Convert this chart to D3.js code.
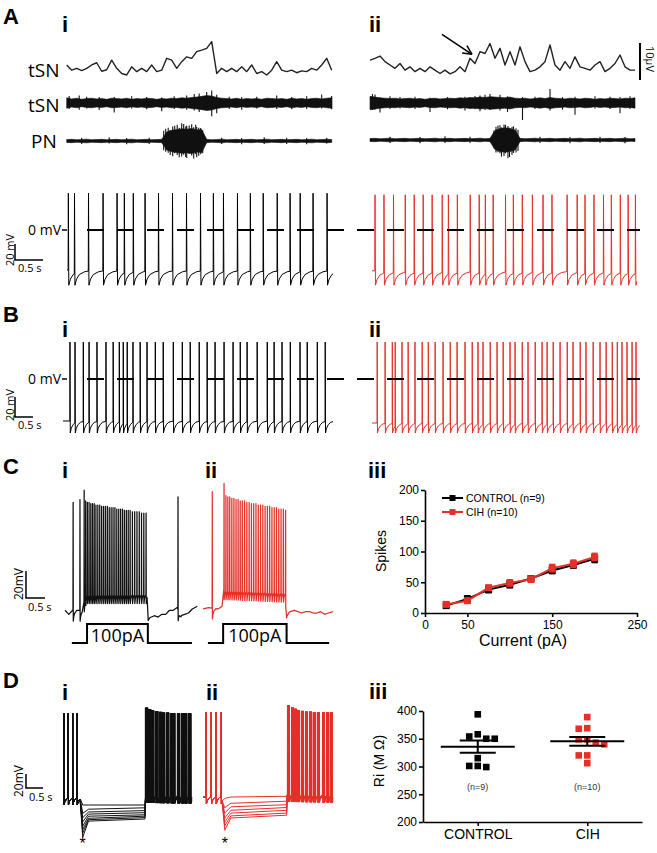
<!DOCTYPE html>
<html><head><meta charset="utf-8">
<script src="https://cdn.jsdelivr.net/npm/d3@7"></script>
<style>html,body{margin:0;padding:0;background:#fff;}svg{display:block;}</style>
</head><body>
<svg id="fig" width="657" height="853"></svg>
<script>
// ================= DATA =================
// Panel A top: integrated tSN (µV above baseline), one sample every 0.1 s
const tsnIntI = [1.9,0.5,1.0,0.4,1.0,1.9,2.5,0.2,0.6,3.2,1.0,-0.4,-0.8,1.4,0.1,1.0,0.1,1.9,0.1,0.5,3.7,3.2,1.0,2.8,4.1,3.7,5.5,5.9,6.4,8.2,-0.4,1.0,0.1,1.0,0.1,1.4,0.1,1.9,-0.4,0.1,-0.8,0.5,2.8,0.5,0.1,0.5,-0.2,0.3,0.1,1.0,0.5,1.9,3.7,0.5];
const tsnIntII = [3.2,3.7,4.3,2.8,1.9,1.0,2.3,0.5,1.4,0.1,1.0,0.1,1.4,0.5,-0.4,0.5,-0.5,0.1,1.4,0.1,3.7,2.3,5.5,5.0,7.7,3.7,6.4,1.9,5.5,1.9,6.8,2.8,0.1,0.5,1.4,2.8,7.3,1.9,0.5,2.8,1.0,4.1,1.4,1.0,0.5,1.9,2.8,0.1,1.0,2.3,4.6,1.4,0.5,0.5];
// raw nerve envelopes (half-width, µV) and large excursions [sample, up, down]
const tsnRawI = [1.4,1.1,1.3,1.0,1.2,1.3,1.1,1.2,1.0,1.3,1.2,1.1,1.3,1.0,1.2,1.1,1.3,1.2,1.0,1.2,1.1,1.3,1.2,1.4,1.3,1.5,1.6,1.8,2.0,1.9,1.5,1.3,1.2,1.1,1.3,1.0,1.2,1.1,1.2,1.0,1.3,1.2,1.1,1.2,1.0,1.3,1.1,1.2,1.0,1.2,1.3,1.1,1.3,1.4];
const tsnRawISpk = [[0.5,1.9,1.6],[2.5,2.0,1.8],[4,1.7,1.5],[6.5,1.6,1.9],[9.5,1.6,2.6],[13,1.8,1.5],[16,1.6,1.7],[19,1.5,2.2],[21.5,1.8,1.6],[24,2.0,1.8],[25.5,2.4,2.0],[26.5,2.6,2.4],[28,3.0,2.0],[29,3.4,3.6],[30,2.2,2.8],[32.5,1.7,1.6],[35,1.6,1.8],[38,1.7,1.5],[42,2.0,1.6],[45,1.6,1.7],[48,1.8,1.6],[51,2.3,1.5],[53,1.9,1.7]];
const pnRawI = [0.4,0.45,0.35,0.4,0.5,0.35,0.4,0.45,0.35,0.4,0.45,0.35,0.4,0.5,0.35,0.4,0.45,0.35,0.4,0.45,2.4,2.9,3.1,3.3,3.2,3.4,3.0,3.1,0.45,0.35,0.4,0.5,0.35,0.4,0.45,0.35,0.4,0.45,0.35,0.4,0.5,0.35,0.4,0.45,0.35,0.4,0.45,0.35,0.4,0.5,0.35,0.4,0.45,0.4];
const pnRawISpk = [[3,0.9,0.8],[8.5,1.0,0.7],[12,0.8,0.9],[16.5,0.9,0.8],[19.4,2.8,2.5],[19.8,3.3,2.9],[20.3,3.6,3.2],[20.7,3.0,3.8],[21.2,3.9,4.1],[21.6,4.1,3.3],[22.1,4.4,3.8],[22.5,3.6,4.4],[23,4.8,4.2],[23.4,4.6,3.7],[23.8,3.9,4.3],[24,4.1,4.6],[24.5,4.2,3.5],[25,4.5,3.9],[25.4,3.7,4.7],[25.8,4.4,3.6],[26,3.8,4.4],[26.4,3.6,4.0],[26.8,3.5,3.6],[27.2,2.9,3.3],[31,0.9,0.8],[35,0.8,0.9],[39.5,1.0,0.8],[44,0.9,0.8],[48,0.8,0.9],[52,0.9,0.7]];
const tsnRawII = [1.8,1.6,1.4,1.3,1.2,1.3,1.1,1.2,1.3,1.1,1.2,1.0,1.2,1.3,1.1,1.2,1.3,1.2,1.4,1.3,1.5,1.4,1.6,1.5,1.7,1.6,1.5,1.4,1.6,1.3,1.2,1.3,1.1,1.2,1.4,1.2,1.5,1.3,1.2,1.1,1.3,1.2,1.1,1.3,1.2,1.0,1.2,1.1,1.3,1.2,1.1,1.3,1.2,1.4];
const tsnRawIISpk = [[0.5,2.4,1.9],[1,2.3,1.8],[2,1.5,2.6],[4,1.8,1.6],[6,1.6,1.5],[9,1.7,1.6],[12,1.4,2.4],[15.5,1.6,1.7],[19,1.7,2.0],[21,1.9,1.7],[22,2.0,2.2],[23,2.2,1.9],[24,2.4,1.8],[26,2.2,2.0],[27.5,1.8,2.4],[30.5,1.6,4.6],[33,1.7,1.6],[36,3.8,2.0],[38.5,1.6,1.8],[41,1.7,3.2],[45,1.8,1.5],[48,1.7,1.6],[50,1.6,2.8],[52,1.8,1.6]];
const pnRawII = [0.4,0.45,0.35,0.4,0.5,0.35,0.4,0.45,0.35,0.4,0.45,0.35,0.4,0.5,0.35,0.4,0.45,0.35,0.4,0.45,0.35,0.4,0.5,0.35,0.45,2.6,3.1,3.3,3.1,2.7,0.45,0.35,0.4,0.5,0.35,0.4,0.45,0.35,0.4,0.45,0.35,0.4,0.5,0.35,0.4,0.45,0.35,0.4,0.45,0.35,0.4,0.5,0.35,0.4];
const pnRawIISpk = [[4,0.9,0.8],[10,0.8,0.9],[15,1.0,0.8],[20,0.9,0.8],[24.8,2.6,2.2],[25.2,3.6,3.4],[25.6,3.9,3.3],[26,4.0,3.6],[26.3,3.4,4.5],[26.8,4.2,4.3],[27.1,4.1,3.6],[27.6,3.8,4.9],[27.9,3.3,4.6],[28.4,3.5,4.0],[28.7,3.7,3.5],[29.2,3.2,3.4],[29.6,2.8,3.0],[34,0.9,0.8],[40,0.8,0.9],[46,0.9,0.8],[51,0.8,0.9]];

// Panel A bottom: spike times (s)
const aSpikesI = [0.02,0.13,0.38,0.64,0.89,1.02,1.18,1.39,1.63,1.88,2.13,2.38,2.61,2.79,3.04,3.27,3.5,3.75,3.98,4.16,4.39,4.64];
const aSpikesII = [0.05,0.21,0.38,0.59,0.75,0.91,1.07,1.25,1.36,1.52,1.75,1.91,2.02,2.16,2.38,2.52,2.68,2.86,3.05,3.21,3.48,3.66,3.8,3.96,4.13,4.27,4.43,4.57,4.7];
// Panel B: spike times (s)
const bSpikesI = [0.19,0.33,0.56,0.72,0.94,1.19,1.39,1.56,1.67,1.78,1.94,2.14,2.33,2.56,2.78,3.06,3.31,3.53,3.78,4.0,4.22,4.47,4.72,4.92,5.11,5.39,5.67,5.86,6.08,6.31,6.58,6.78,7.06,7.28];
const bSpikesII = [0.14,0.36,0.56,0.64,0.83,1.0,1.19,1.39,1.56,1.75,1.97,2.17,2.36,2.58,2.78,2.94,3.08,3.28,3.47,3.64,3.83,3.97,4.17,4.33,4.53,4.72,4.86,5.03,5.22,5.42,5.58,5.78,5.94,6.14,6.33,6.5,6.67,6.81,6.94,7.08,7.22,7.33];

// Panel C: spike times (s), peaks (mV), subthreshold knots [s, mV], current step [s, pA]
const cSpikesI = [0.21,0.39,0.50,0.54,0.585,0.63,0.675,0.72,0.765,0.81,0.86,0.91,0.96,1.01,1.06,1.11,1.16,1.21,1.26,1.31,1.36,1.41,1.46,1.51,1.56,1.61,1.66,1.71,1.77,1.83,1.89,1.95,2.01,2.07,2.13,2.97];
const cPeaksI = [22,24,31,23,22,22,21,21,21,20,20,20,19,19,19,19,18,18,18,18,17,17,17,17,16,16,16,16,15,15,15,15,14,14,14,26];
const cBaseI = [[0,-58],[0.1,-61],[0.2,-58],[0.45,-58],[0.5,-52],[0.56,-45],[2.16,-45],[2.19,-64],[2.35,-62],[2.45,-63],[2.55,-61],[2.65,-61],[2.75,-58],[2.85,-58],[2.95,-56],[3.05,-62],[3.15,-61],[3.25,-60],[3.35,-57],[3.48,-55]];
const cSpikesII = [0.24,0.55,0.6,0.65,0.7,0.755,0.81,0.865,0.92,0.975,1.03,1.09,1.15,1.21,1.27,1.33,1.39,1.45,1.51,1.57,1.63,1.69,1.75,1.81,1.87,1.93,1.99,2.05,2.11,2.17];
const cPeaksII = [30,36,27,26,26,25,25,24,24,23,23,23,22,22,21,21,21,20,20,20,19,19,19,18,18,18,17,17,17,16];
const cBaseII = [[0,-57],[0.15,-56],[0.4,-57],[0.5,-55],[0.55,-42],[2.17,-44],[2.2,-60],[2.3,-59],[2.4,-58],[2.5,-59],[2.6,-60],[2.7,-59],[2.8,-59],[2.9,-60],[3.0,-60],[3.1,-59],[3.2,-61],[3.3,-60],[3.42,-59]];
const cStepI = [[0.18,0],[0.58,0],[0.58,100],[2.18,100],[2.18,0],[3.34,0]];
const cStepII = [[0.13,0],[0.53,0],[0.53,100],[2.2,100],[2.2,0],[3.32,0]];
const stepLabel = "100pA";

// Panel C iii: spikes vs injected current
const currents = [25,50,75,100,125,150,175,200];
const ctrlSpikes = [12,23,38,46,56,69,78,88];
const ctrlErr = [3,5,5,5,4,5,5,6];
const cihSpikes = [14,20,41,49,55,73,80,91];
const cihErr = [3,4,4,5,5,6,6,6];
const xTicksC = [0,50,150,250];
const yTicksC = [0,50,100,150,200];

// Panel D: pre / rebound spikes and hyperpolarising sweeps (mV)
const dPreI = [0.02,0.15,0.28,0.41];
const dPostI = [2.44,2.53,2.62,2.74,2.85,2.94,3.06,3.18,3.24,3.38,3.5,3.59,3.71];
const dPostPeaksI = [69,67,65,64,63,62,62,61,61,61,61,61,61];
const dDipI = [-70,-82,-88,-94,-100,-105,-110,-116];
const dStartI = [-70,-76,-80,-83,-86,-89,-91,-93];
const dEndI = [-70,-74,-78,-81,-84,-86,-88,-90];
const dShiftI = [0,0.02,-0.02,0.04,0.01,-0.01,0.05,0.03];
const dPreII = [0.09,0.24,0.38,0.53];
const dPostII = [2.5,2.62,2.71,2.79,2.91,3.03,3.15,3.26,3.38,3.53,3.65,3.76];
const dPostPeaksII = [71,68,66,64,63,62,62,61,61,61,61,61];
const dDipII = [-62,-75,-83,-90,-96,-101,-107];
const dStartII = [-60,-69,-74,-79,-83,-87,-90];
const dEndII = [-59,-66,-71,-75,-79,-83,-86];
const dShiftII = [0,0.03,-0.02,0.04,0.01,0.02,-0.01];

// Panel D iii: input resistance (MΩ)
const groups = ["CONTROL","CIH"];
const riControl = [394,354,350,350,358,315,301,299,301];
const riCIH = [389,369,368,349,349,340,343,320,320,306];
const nLabels = ["(n=9)","(n=10)"];
const yTicksD = [200,250,300,350,400];

// ================= DRAWING =================
const svg = d3.select('#fig');
const RED = '#e5302a';
const FT = "'Open Sans','Noto Sans',sans-serif";
const FA = "'Liberation Sans',Arial,sans-serif";

function txt(x, y, s, size, o = {}) {
  const t = svg.append('text').attr('x', x).attr('y', y).text(s)
    .attr('font-size', size).attr('font-family', o.family || FT)
    .attr('font-weight', o.weight || 'normal').attr('fill', o.fill || '#000');
  if (o.anchor) t.attr('text-anchor', o.anchor);
  if (o.rotate !== undefined) t.attr('transform', `rotate(${o.rotate},${x},${y})`);
  return t;
}
function line(x1, y1, x2, y2, w, c) {
  return svg.append('line').attr('x1', x1).attr('y1', y1).attr('x2', x2).attr('y2', y2)
    .attr('stroke', c || '#000').attr('stroke-width', w || 1);
}
function interp(knots, t) {
  if (t <= knots[0][0]) return knots[0][1];
  for (let k = 1; k < knots.length; k++) {
    if (t <= knots[k][0]) {
      const [t0, v0] = knots[k - 1], [t1, v1] = knots[k];
      return t1 === t0 ? v1 : v0 + (v1 - v0) * (t - t0) / (t1 - t0);
    }
  }
  return knots[knots.length - 1][1];
}
// membrane potential: subthreshold knots + spikes with AHP recovery
function vmPoints(spk, peaks, base, ahp, rec, t0, t1) {
  const pts = [];
  const bounds = [t0, ...spk, t1];
  for (let k = 0; k < bounds.length - 1; k++) {
    const a = bounds[k], b = bounds[k + 1];
    const after = k > 0;
    const times = [];
    if (after) rec.forEach(([d]) => { if (a + d < b - 0.003) times.push(a + d); });
    else times.push(a);
    base.forEach(([t]) => { if (t > a && t < b) times.push(t); });
    times.push(b);
    times.sort((p, q) => p - q);
    times.forEach(t => pts.push([t, interp(base, t) - (after ? ahp * interp(rec, t - a) : 0)]));
    if (k < spk.length) pts.push([b + 0.004, Array.isArray(peaks) ? peaks[k] : peaks]);
  }
  return pts;
}
function drawVm(pts, x, y, color, w) {
  svg.append('path').datum(pts)
    .attr('d', d3.line().x(d => x(d[0])).y(d => y(d[1])))
    .attr('fill', 'none').attr('stroke', color).attr('stroke-width', w || 1)
    .attr('stroke-linejoin', 'round');
}
function scaleBar(x0, y0, x, y, mv, secs, lab, labX, labY, secX, secY, fs) {
  const h = Math.abs(y(0) - y(mv));
  const len = x(secs) - x(0);
  line(x0, y0 - h, x0, y0, 1.5);
  line(x0 - 0.75, y0, x0 + len, y0, 1.5);
  txt(labX, labY, lab, fs, { anchor: 'middle', rotate: -90 });
  txt(secX, secY, '0.5 s', 11);
}

// ---- panel letters
txt(3, 24, 'A', 22, { weight: 'bold', family: FA });
txt(3, 322, 'B', 22, { weight: 'bold', family: FA });
txt(3, 474, 'C', 22, { weight: 'bold', family: FA });
txt(3, 688, 'D', 22, { weight: 'bold', family: FA });
[[62, 32, 'i'], [369, 32, 'ii'], [62, 337, 'i'], [369, 337, 'ii'], [62, 478, 'i'], [205, 478, 'ii'], [368, 478, 'iii'],
 [62, 700, 'i'], [206, 700, 'ii'], [369, 699, 'iii']].forEach(([x, y, s]) => txt(x, y, s, 22, { weight: 'bold', family: FA }));

// ---- Panel A top: nerve recordings
const dt = 0.1;
const xTopI = d3.scaleLinear().domain([0, 53 * dt]).range([66.7, 331.7]);
const xTopII = d3.scaleLinear().domain([0, 53 * dt]).range([370, 635]);
const yInt = d3.scaleLinear().domain([0, 10]).range([72, 35]);
function intTrace(vals, xs) {
  svg.append('path').datum(vals)
    .attr('d', d3.line().x((d, i) => xs(i * dt)).y(d => yInt(d)))
    .attr('fill', 'none').attr('stroke', '#222').attr('stroke-width', 1.4).attr('stroke-linejoin', 'round');
}
function rawTrace(amps, spikes, xs, center) {
  const y = d3.scaleLinear().domain([-1, 1]).range([center + 3.7, center - 3.7]);
  svg.append('path').datum(amps)
    .attr('d', d3.area().x((d, i) => xs(i * dt)).y0(d => y(-d)).y1(d => y(d)))
    .attr('fill', '#111').attr('stroke', '#111').attr('stroke-width', 0.6);
  spikes.forEach(([i, up, dn]) => line(xs(i * dt), y(up), xs(i * dt), y(-dn), 1.1, '#111'));
}
intTrace(tsnIntI, xTopI);
intTrace(tsnIntII, xTopII);
rawTrace(tsnRawI, tsnRawISpk, xTopI, 103);
rawTrace(pnRawI, pnRawISpk, xTopI, 141);
rawTrace(tsnRawII, tsnRawIISpk, xTopII, 103);
rawTrace(pnRawII, pnRawIISpk, xTopII, 140);
txt(28, 77, 'tSN', 19);
txt(28, 112, 'tSN', 19);
txt(31, 148, 'PN', 19);
// arrow pointing at onset of the rise
{
  const ti = 20;
  const tx = xTopII(ti * dt) + 2, ty = yInt(tsnIntII[ti]) - 4;
  const sx = tx - 30, sy = ty - 20;
  line(sx, sy, tx, ty, 1.5);
  const ang = Math.atan2(ty - sy, tx - sx);
  [0.45, -0.45].forEach(da => line(tx, ty, tx - 10 * Math.cos(ang + da), ty - 10 * Math.sin(ang + da), 1.5));
}
// 10 µV bar
{
  const h = yInt(0) - yInt(10);
  line(640, 80 - h, 640, 80, 2);
  txt(646, 59, '10μV', 11, { anchor: 'middle', rotate: 90 });
}

// ---- Panel A bottom & B: spontaneous firing
const recSlow = [[0.012, 1], [0.04, 0.6], [0.09, 0.3], [0.18, 0.12], [0.35, 0]];
const xAI = d3.scaleLinear().domain([0, 1]).range([67, 123]);
const xAII = d3.scaleLinear().domain([0, 1]).range([372, 428]);
const yA = d3.scaleLinear().domain([0, 20]).range([230, 214]);
drawVm(vmPoints(aSpikesI, 46, [[0, -50], [4.75, -50]], 19, recSlow, 0, 4.75), xAI, yA, '#000', 1);
drawVm(vmPoints(aSpikesII, 44, [[0, -51], [4.73, -51]], 18, recSlow, 0, 4.73), xAII, yA, RED, 1);

const xBI = d3.scaleLinear().domain([0, 1]).range([63, 99]);
const xBII = d3.scaleLinear().domain([0, 1]).range([372, 408]);
const yB = d3.scaleLinear().domain([0, 20]).range([379, 359]);
const recB = [[0.012, 1], [0.04, 0.6], [0.09, 0.3], [0.16, 0.1], [0.3, 0]];
drawVm(vmPoints(bSpikesI, 37, [[0, -42], [7.5, -42]], 12, recB, 0, 7.5), xBI, yB, '#000', 1);
drawVm(vmPoints(bSpikesII, 37, [[0, -44], [7.44, -44]], 10, recB, 0, 7.44), xBII, yB, RED, 1);

// 0 mV dashed references
[yA, yB].forEach(y => {
  const y0 = y(0);
  svg.append('line').attr('x1', 87).attr('x2', 640).attr('y1', y0).attr('y2', y0)
    .attr('stroke', '#000').attr('stroke-width', 2).attr('stroke-dasharray', '17,13');
  line(62, y0, 67, y0, 1.5);
  txt(61, y0 + 5, '0 mV', 14, { anchor: 'end' });
});
scaleBar(15, 260, xAI, yA, 20, 0.5, '20 mV', 14, 250, 18, 272, 11);
scaleBar(15, 417, xBI, yB, 20, 0.5, '20 mV', 14, 405, 18, 429, 11);

// ---- Panel C i/ii: current-step firing
const xCI = d3.scaleLinear().domain([0, 1]).range([65, 103]);
const xCII = d3.scaleLinear().domain([0, 1]).range([203, 241]);
const yCv = d3.scaleLinear().domain([-60, -40]).range([613, 586]);
const yStep = d3.scaleLinear().domain([0, 100]).range([643, 624]);
const recFast = [[0.008, 1], [0.02, 0.6], [0.04, 0.3], [0.1, 0]];
drawVm(vmPoints(cSpikesI, cPeaksI, cBaseI, 8, recFast, 0, 3.48), xCI, yCv, '#111', 1.25);
drawVm(vmPoints(cSpikesII, cPeaksII, cBaseII, 8, recFast, 0, 3.42), xCII, yCv, RED, 1.25);
[[cStepI, xCI], [cStepII, xCII]].forEach(([st, xs]) => {
  svg.append('path').datum(st).attr('d', d3.line().x(d => xs(d[0])).y(d => yStep(d[1])))
    .attr('fill', 'none').attr('stroke', '#000').attr('stroke-width', 2);
  const hi = st.filter(d => d[1] > 0);
  txt((xs(hi[0][0]) + xs(hi[hi.length - 1][0])) / 2, 642, stepLabel, 18, { anchor: 'middle' });
});
scaleBar(26, 598, xCI, yCv, 20, 0.5, '20mV', 23, 584, 28, 611, 12);

// ---- Panel D i/ii: hyperpolarising steps
const xDI = d3.scaleLinear().domain([0, 1]).range([63, 97]);
const xDII = d3.scaleLinear().domain([0, 1]).range([203, 237]);
const yDI = d3.scaleLinear().domain([-60, 0]).range([798, 756]);
const yDII = d3.scaleLinear().domain([-60, 0]).range([797, 755]);
const recD = [[0.01, 1], [0.03, 0.6], [0.07, 0.25], [0.12, 0]];
dDipI.forEach((dip, j) => {
  const base = [[0, -60], [0.5, -60], [0.58, dip], [0.75, dStartI[j]], [2.41, dEndI[j]], [2.43, -57], [3.79, -58]];
  const post = dPostI.map(t => t + dShiftI[j]);
  const spk = [...dPreI, ...post];
  const pk = [...dPreI.map(() => 61), ...dPostPeaksI];
  drawVm(vmPoints(spk, pk, base, 10, recD, 0, 3.79), xDI, yDI, '#111', 1);
});
dDipII.forEach((dip, j) => {
  const base = [[0, -60], [0.56, -60], [0.64, dip], [0.82, dStartII[j]], [2.46, dEndII[j]], [2.48, -57], [3.82, -58]];
  const post = dPostII.map(t => t + dShiftII[j]);
  const spk = [...dPreII, ...post];
  const pk = [...dPreII.map(() => 61), ...dPostPeaksII];
  drawVm(vmPoints(spk, pk, base, 10, recD, 0, 3.82), xDII, yDII, RED, 1);
});
scaleBar(26, 788, xDI, yDI, 20, 0.5, '20mV', 23, 781, 29, 801, 12);
txt(xDI(0.58), 849, '*', 16, { anchor: 'middle', family: FA });
txt(xDII(0.64), 849, '*', 16, { anchor: 'middle', family: FA });

// ---- axis styling
function styleAxis(g, size) {
  g.attr('font-family', FA);
  g.select('.domain').attr('stroke', '#000').attr('stroke-width', 1.6);
  g.selectAll('.tick line').attr('stroke', '#000').attr('stroke-width', 1.6);
  g.selectAll('.tick text').attr('font-size', size).attr('font-family', FA).attr('fill', '#000');
}

// ---- Panel C iii
const xC = d3.scaleLinear().domain([0, 250]).range([425, 637]);
const yC = d3.scaleLinear().domain([0, 200]).range([613, 490]);
styleAxis(svg.append('g').attr('transform', 'translate(0,613)')
  .call(d3.axisBottom(xC).tickValues(xTicksC).tickSize(4).tickSizeOuter(0).tickPadding(3).tickFormat(d3.format('d'))), 12);
styleAxis(svg.append('g').attr('transform', 'translate(425,0)')
  .call(d3.axisLeft(yC).tickValues(yTicksC).tickSize(4).tickSizeOuter(0).tickPadding(2).tickFormat(d3.format('d'))), 12);
txt(386, 551, 'Spikes', 14, { family: FA, anchor: 'middle', rotate: -90 });
txt(523, 646, 'Current (pA)', 16, { family: FA, anchor: 'middle' });
function series(vals, errs, color) {
  const pts = currents.map((c, i) => [c, vals[i], errs[i]]);
  svg.append('path').datum(pts).attr('d', d3.line().x(d => xC(d[0])).y(d => yC(d[1])))
    .attr('fill', 'none').attr('stroke', color).attr('stroke-width', 2);
  pts.forEach(([c, v, e]) => {
    line(xC(c), yC(v - e), xC(c), yC(v + e), 1.5, color);
    line(xC(c) - 3, yC(v + e), xC(c) + 3, yC(v + e), 1.5, color);
    line(xC(c) - 3, yC(v - e), xC(c) + 3, yC(v - e), 1.5, color);
    svg.append('rect').attr('x', xC(c) - 3.5).attr('y', yC(v) - 3.5).attr('width', 7).attr('height', 7).attr('fill', color);
  });
}
series(ctrlSpikes, ctrlErr, '#000');
series(cihSpikes, cihErr, RED);
[['CONTROL (n=9)', '#000', 498], ['CIH (n=10)', RED, 512]].forEach(([s, c, y]) => {
  line(442, y, 463, y, 2, c);
  svg.append('rect').attr('x', 452.5 - 3).attr('y', y - 3).attr('width', 6).attr('height', 6).attr('fill', c);
  txt(466, y + 4, s, 10.5, { family: FA });
});

// ---- Panel D iii
const xD = d3.scalePoint().domain(groups).range([423, 642]).padding(0.5);
const yD = d3.scaleLinear().domain([200, 400]).range([822, 711]);
styleAxis(svg.append('g').attr('transform', 'translate(0,822)')
  .call(d3.axisBottom(xD).tickSize(4).tickSizeOuter(0).tickPadding(3)), 14);
styleAxis(svg.append('g').attr('transform', 'translate(423,0)')
  .call(d3.axisLeft(yD).tickValues(yTicksD).tickSize(4).tickSizeOuter(0).tickPadding(2)), 12);
txt(384, 761, 'Ri (M Ω)', 14, { family: FA, anchor: 'middle', rotate: -90 });
function swarm(vals, y, minDy) {
  const order = vals.map((v, i) => i).sort((a, b) => vals[b] - vals[a]);
  const placed = [], off = [];
  order.forEach(i => {
    const yy = y(vals[i]);
    for (const c of [0, -1, 1, 2, -2, 3, -3]) {
      if (placed.every(p => Math.abs(p.y - yy) >= minDy || p.c !== c)) { off[i] = c; placed.push({ y: yy, c }); break; }
    }
  });
  return off;
}
[[riControl, '#000', 'CONTROL'], [riCIH, RED, 'CIH']].forEach(([vals, color, g], gi) => {
  const cx = xD(g);
  const off = swarm(vals, yD, 7);
  vals.forEach((v, i) => svg.append('rect').attr('x', cx + off[i] * 8.5 - 3.3).attr('y', yD(v) - 3.3)
    .attr('width', 6.6).attr('height', 6.6).attr('fill', color));
  const m = d3.mean(vals), sem = d3.deviation(vals) / Math.sqrt(vals.length);
  line(cx - 37, yD(m), cx + 37, yD(m), 2);
  line(cx - 18, yD(m + sem), cx + 18, yD(m + sem), 2);
  line(cx - 18, yD(m - sem), cx + 18, yD(m - sem), 2);
  line(cx, yD(m + sem), cx, yD(m - sem), 2);
  txt(cx, 790, nLabels[gi], 9, { family: FA, anchor: 'middle', fill: '#333' });
});
</script>
</body></html>
